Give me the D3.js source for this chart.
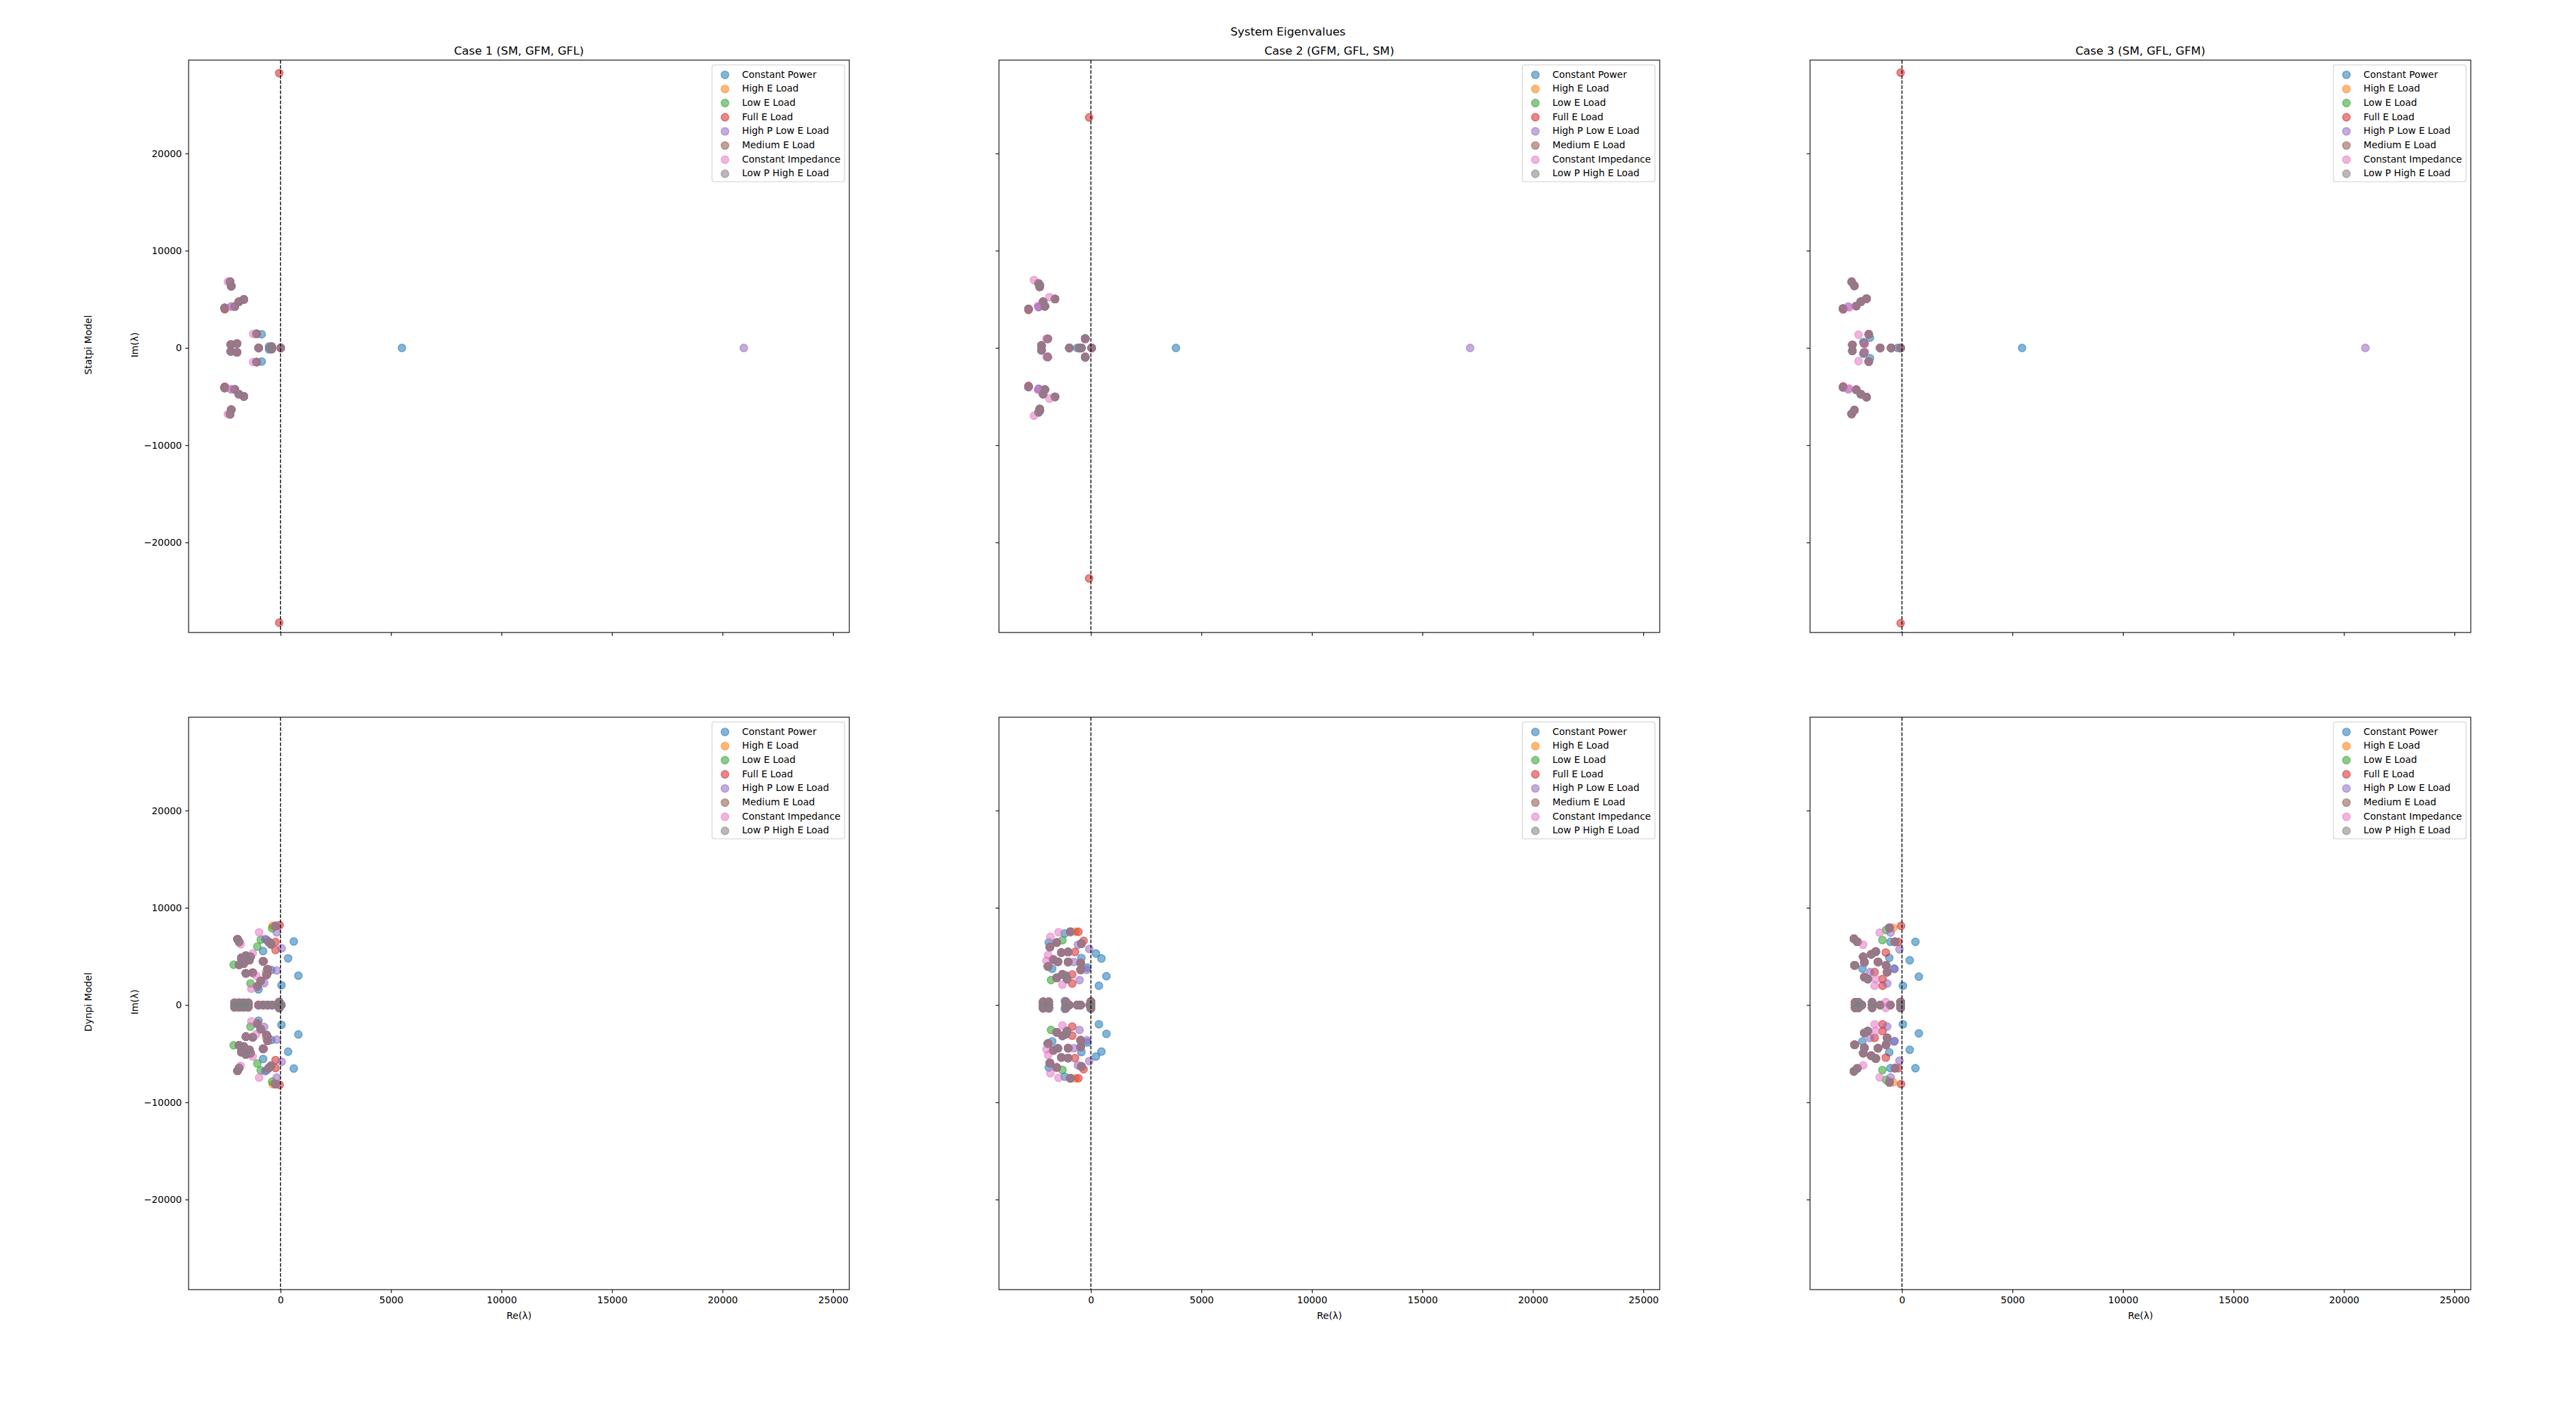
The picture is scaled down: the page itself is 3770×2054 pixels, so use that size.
<!DOCTYPE html>
<html lang="en">
<head>
    <meta charset="UTF-8">
    <title>System Eigenvalues</title>
    <script src="https://d3js.org/d3.v7.min.js"></script>
    <style>
        body { margin: 0; background: #fff; }
        svg { display: block; font-family: "DejaVu Sans", sans-serif; }
    </style>
</head>
<body>
    <svg width="3770" height="2054"></svg>
    <script>
        // --- data (eigenvalues, upper half-plane only;
        //     conjugates are added below since they come in pairs) ---
        const seriesNames = ['Constant Power', 'High E Load', 'Low E Load', 'Full E Load',
            'High P Low E Load', 'Medium E Load', 'Constant Impedance', 'Low P High E Load'];
        const seriesColors = ['#1f77b4', '#ff7f0e', '#2ca02c', '#d62728',
            '#9467bd', '#8c564b', '#e377c2', '#7f7f7f'];
        const caseTitles = ['Case 1 (SM, GFM, GFL)', 'Case 2 (GFM, GFL, SM)', 'Case 3 (SM, GFL, GFM)'];
        const rowLabels = ['Statpi Model', 'Dynpi Model'];
        const xTicks = [0, 5000, 10000, 15000, 20000, 25000];
        const yTicks = [-20000, -10000, 0, 10000, 20000];

        // Statpi, case 1
        const statpi1Shared = [[-2280, 6800], [-2230, 6350], [-2526, 4117], [-2072, 4257], [-1886, 4750],
            [-1660, 4985], [-1082, 1447], [-2250, 350], [-1970, 450], [-990, 0], [-480, 0], [-400, 120], [10, 0]];
        const statpi1Extra = {
            'Constant Power': [[-854, 1400], [-520, 150], [5494, 0]],
            'Low E Load': [[-2540, 4060]],
            'Full E Load': [[-60, 28250], [-2520, 3980]],
            'High P Low E Load': [[-2226, 4257], [20965, 0]],
            'Constant Impedance': [[-2380, 6810], [-1237, 1447], [-2226, 4257]]
        };
        // Statpi, case 2
        const statpi2Shared = [[-2368, 6620], [-2316, 6280], [-2823, 4000], [-2161, 4750], [-2081, 4283],
            [-1626, 5028], [-1957, 934], [-2236, 250], [-977, 0], [-430, 0], [-257, 934], [34, 0], [-520, 0]];
        const statpi2Extra = {
            'Constant Power': [[-616, 0], [3847, 0], [-2368, 4213], [-2300, 6450], [-257, 1000]],
            'Full E Load': [[-80, 23700], [-2823, 3900]],
            'High P Low E Load': [[17161, 0], [-2368, 4213]],
            'Constant Impedance': [[-2575, 6973], [-1874, 5218], [-2010, 934], [-2400, 4300]]
        };
        // Statpi, case 3
        const statpi3Shared = [[-2276, 6790], [-2152, 6390], [-2668, 4045], [-2069, 4306], [-1864, 4750],
            [-1605, 5060], [-1503, 1400], [-1710, 465], [-2245, 300], [-987, 0], [-492, 0], [-59, 0]];
        const statpi3Extra = {
            'Constant Power': [[-1450, 1050], [-1750, 600], [-195, 0], [5436, 0]],
            'Full E Load': [[-60, 28300], [-2660, 3950]],
            'High P Low E Load': [[-2430, 4260], [20971, 0]],
            'Constant Impedance': [[-1967, 1355], [-1680, 420], [-2380, 4150]]
        };
        // Dynpi, case 1
        const dynpi1Shared = [[-226, 8118], [-1945, 6762], [-1874, 6481], [-430, 6250], [-533, 6481],
            [-1772, 4845], [-1566, 5080], [-1360, 4960], [-1874, 4143], [-1669, 4260], [-1411, 4611],
            [-1566, 3251], [-1257, 3321], [-790, 4494], [-585, 3672], [-636, 3087], [-1050, 1914],
            [-894, 2484], [-2081, 0], [-1874, 0], [-1669, 0], [-1463, 0], [-2081, 230], [-1874, 230],
            [-1669, 230], [-1463, 230], [-998, 0], [-790, 0], [-585, 0], [-380, 0], [-123, 0], [33, 0],
            [-60, 300], [-60, 150]];
        const dynpi1Extra = {
            'Constant Power': [[600, 6530], [343, 4796], [807, 3019], [43, 2036], [-636, 6713],
                [-790, 5543], [-998, 1610], [-420, 3600]],
            'High E Load': [[-350, 8150], [-650, 3400]],
            'Low E Load': [[-380, 7886], [-894, 6713], [-1050, 6011], [-1360, 2219], [-2120, 4143]],
            'Full E Load': [[-40, 8215], [-226, 6481], [-226, 5660], [-760, 4494], [-600, 3200]],
            'High P Low E Load': [[-174, 7464], [53, 5830], [-174, 3555], [-740, 2250], [-700, 6800]],
            'Constant Impedance': [[-968, 7464], [-1802, 6250], [-1257, 5310], [-1319, 1680], [-1100, 3000]]
        };
        // Dynpi, case 2
        const dynpi2Shared = [[-928, 7528], [-1546, 6425], [-1856, 5957], [-432, 6308], [-1339, 5385],
            [-1030, 5455], [-464, 4320], [-1700, 4670], [-1494, 4450], [-1937, 3967], [-1030, 4435],
            [-464, 3617], [-1546, 2797], [-1289, 3148], [-1134, 3000], [-1082, 2680], [-2161, 0],
            [-1903, 0], [-2161, 330], [-1903, 330], [-1134, 0], [-979, 0], [-1134, 330], [-618, 0],
            [-464, 0], [-52, 0], [0, 350], [0, 150]];
        const dynpi2Extra = {
            'Constant Power': [[-1186, 7364], [-1906, 6425], [229, 5300], [476, 4788], [702, 2963],
                [362, 1980], [-432, 4835], [-159, 3850], [-1752, 3734], [-1180, 400]],
            'High E Load': [[-700, 7528]],
            'Low E Load': [[-1289, 6660], [-1804, 2563], [-1960, 3967]],
            'Full E Load': [[-566, 7528], [-330, 6600], [-720, 5455], [-846, 3148], [-846, 2212]],
            'High P Low E Load': [[-587, 6191], [-74, 5770], [-772, 4435], [-185, 3617], [-515, 2563]],
            'Constant Impedance': [[-1464, 7481], [-1833, 7010], [-1937, 5140], [-2010, 4551], [-1289, 2095]]
        };
        // Dynpi, case 3
        const dynpi3Shared = [[-566, 7944], [-2173, 6813], [-2019, 6508], [-318, 6495], [-1185, 5490],
            [-1391, 5210], [-1752, 4950], [-1700, 4400], [-2138, 4085], [-1082, 4435], [-721, 4085],
            [-670, 3384], [-1700, 2870], [-1546, 2680], [-2121, 0], [-1967, 0], [-1813, 0], [-2121, 280],
            [-1967, 280], [-1349, 0], [-1349, 280], [-988, 0], [-525, 0], [-57, 0], [-57, 300]];
        const dynpi3Extra = {
            'Constant Power': [[609, 6495], [352, 4599], [764, 2914], [43, 1980], [-523, 6495],
                [-576, 4857], [-1792, 3750], [-360, 3750]],
            'High E Load': [[-400, 7944]],
            'Low E Load': [[-720, 7710], [-885, 6683], [-1185, 5520], [-2160, 4085]],
            'Full E Load': [[-40, 8132], [-164, 6495], [-730, 5400], [-1237, 3384], [-876, 2680], [-876, 1980]],
            'High P Low E Load': [[-515, 7442], [-113, 5723], [-1443, 3384], [-670, 2212], [-330, 3700]],
            'Constant Impedance': [[-1008, 7442], [-1757, 6200], [-1185, 2680], [-1237, 1980], [-730, 300]]
        };

        const panels = [
            { row: 0, col: 0, shared: statpi1Shared, extra: statpi1Extra },
            { row: 0, col: 1, shared: statpi2Shared, extra: statpi2Extra },
            { row: 0, col: 2, shared: statpi3Shared, extra: statpi3Extra },
            { row: 1, col: 0, shared: dynpi1Shared, extra: dynpi1Extra },
            { row: 1, col: 1, shared: dynpi2Shared, extra: dynpi2Extra },
            { row: 1, col: 2, shared: dynpi3Shared, extra: dynpi3Extra }
        ];

        // --- layout ---
        const colLeft = [276, 1462, 2649];
        const rowTop = [88, 1050];
        const axW = 967;
        const axH = 838;
        const fs = 13.9;
        const tickFmt = d3.format('d');

        const svg = d3.select('svg');
        svg.append('rect').attr('width', 3770).attr('height', 2054).attr('fill', '#fff');

        svg.append('text')
            .attr('x', 1885).attr('y', 52)
            .attr('text-anchor', 'middle')
            .attr('font-size', 16.7)
            .text('System Eigenvalues');

        const x = d3.scaleLinear().domain([-4160, 25740]).range([0, axW]);
        const y = d3.scaleLinear().domain([-29260, 29590]).range([axH, 0]);

        panels.forEach(p => {
            const g = svg.append('g')
                .attr('transform', `translate(${colLeft[p.col]},${rowTop[p.row]})`);

            const clipId = `clip-${p.row}-${p.col}`;
            g.append('clipPath').attr('id', clipId)
                .append('rect').attr('width', axW).attr('height', axH);

            const plot = g.append('g').attr('clip-path', `url(#${clipId})`);

            seriesNames.forEach((name, i) => {
                const upper = p.shared.concat(p.extra[name] || []);
                const pts = [];
                upper.forEach(d => {
                    pts.push(d);
                    if (d[1] !== 0) pts.push([d[0], -d[1]]);
                });
                plot.append('g')
                    .selectAll('circle')
                    .data(pts)
                    .enter().append('circle')
                    .attr('cx', d => x(d[0]))
                    .attr('cy', d => y(d[1]))
                    .attr('r', 5.6)
                    .attr('fill', seriesColors[i])
                    .attr('fill-opacity', 0.55)
                    .attr('stroke', seriesColors[i])
                    .attr('stroke-opacity', 0.55)
                    .attr('stroke-width', 1.4);
            });

            // dashed line at Re = 0
            plot.append('line')
                .attr('x1', x(0)).attr('x2', x(0))
                .attr('y1', 0).attr('y2', axH)
                .attr('stroke', '#000')
                .attr('stroke-width', 1.4)
                .attr('stroke-dasharray', '5.2,2.2');

            // axes
            const xAxis = d3.axisBottom(x).tickValues(xTicks).tickSize(4.9).tickPadding(4.9)
                .tickFormat(p.row === 0 ? '' : tickFmt);
            const yAxis = d3.axisLeft(y).tickValues(yTicks).tickSize(4.9).tickPadding(4.9)
                .tickFormat(p.col !== 0 ? '' : tickFmt);

            const gx = g.append('g').attr('transform', `translate(0,${axH})`).call(xAxis);
            const gy = g.append('g').call(yAxis);
            [gx, gy].forEach(a => {
                a.select('.domain').remove();
                a.selectAll('line').attr('stroke', '#000').attr('stroke-width', 1.1);
                a.selectAll('text').attr('font-size', fs).attr('fill', '#000')
                    .attr('font-family', '"DejaVu Sans", sans-serif');
            });

            g.append('rect')
                .attr('width', axW).attr('height', axH)
                .attr('fill', 'none')
                .attr('stroke', '#000')
                .attr('stroke-width', 1.1);

            if (p.row === 0) {
                g.append('text')
                    .attr('x', axW / 2).attr('y', -8.3)
                    .attr('text-anchor', 'middle')
                    .attr('font-size', 16.7)
                    .text(caseTitles[p.col]);
            }
            if (p.row === 1) {
                g.append('text')
                    .attr('x', axW / 2).attr('y', axH + 43)
                    .attr('text-anchor', 'middle')
                    .attr('font-size', fs)
                    .text('Re(λ)');
            }
            if (p.col === 0) {
                g.append('text')
                    .attr('transform', `translate(${197 - 276 + 5},${axH / 2 - 2}) rotate(-90)`)
                    .attr('text-anchor', 'middle')
                    .attr('font-size', fs)
                    .text('Im(λ)');
                g.append('text')
                    .attr('transform', `translate(${129 - 276 + 5},${axH / 2 - 2}) rotate(-90)`)
                    .attr('text-anchor', 'middle')
                    .attr('font-size', fs)
                    .text(rowLabels[p.row]);
            }

            // legend
            const lg = g.append('g').attr('transform', `translate(${axW - 201},7)`);
            lg.append('rect')
                .attr('width', 194).attr('height', 171)
                .attr('rx', 3).attr('ry', 3)
                .attr('fill', '#fff').attr('fill-opacity', 0.8)
                .attr('stroke', '#d0d0d0').attr('stroke-width', 1.1);
            seriesNames.forEach((name, i) => {
                const ly = 13.5 + i * 20.7;
                lg.append('circle')
                    .attr('cx', 19).attr('cy', ly + 1)
                    .attr('r', 5.6)
                    .attr('fill', seriesColors[i]).attr('fill-opacity', 0.55)
                    .attr('stroke', seriesColors[i]).attr('stroke-opacity', 0.55)
                    .attr('stroke-width', 1.4);
                lg.append('text')
                    .attr('x', 44).attr('y', ly + 5)
                    .attr('font-size', fs)
                    .text(name);
            });
        });
    </script>
</body>
</html>
